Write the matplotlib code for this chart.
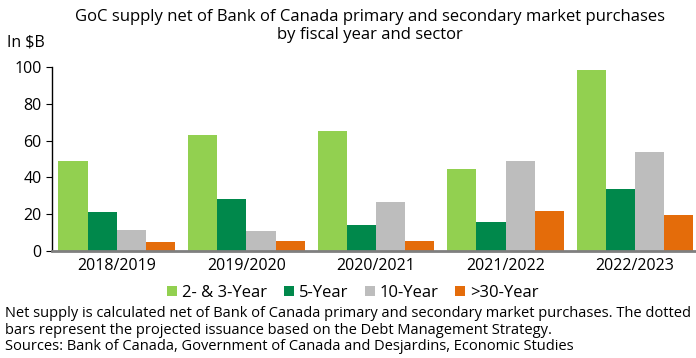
import matplotlib.pyplot as plt
import numpy as np

years = ['2018/2019', '2019/2020', '2020/2021', '2021/2022', '2022/2023']
series = ['2- & 3-Year', '5-Year', '10-Year', '>30-Year']
short = [49, 63, 65, 44.6, 98.4]
five = [21, 28.3, 14.3, 16, 33.7]
ten = [11.5, 11, 26.6, 49, 53.8]
long = [4.7, 5.2, 5.7, 21.7, 19.6]
colors = ['#92D050', '#00884B', '#BDBDBD', '#E46C0A']

plt.rcParams['font.family'] = ['Open Sans', 'DejaVu Sans']

fig = plt.figure(figsize=(6.96, 3.58), dpi=100)
ax = fig.add_axes([52/696, 1 - 251/358, 644/696, 184/358])

x = np.arange(len(years))
w = 0.225
for i, (vals, name) in enumerate(zip([short, five, ten, long], series)):
    ax.bar(x + (i - 1.5) * w, vals, width=w, color=colors[i], label=name, zorder=2)

ax.set_xlim(-0.5, 4.47)
ax.set_ylim(0, 100)
ax.set_yticks([0, 20, 40, 60, 80, 100])
ax.set_xticks(x)
ax.set_xticklabels(years)
ax.tick_params(axis='x', length=0, labelsize=11.5, pad=5)
ax.tick_params(axis='y', labelsize=11.5, length=4, direction='out')
for s in ['top', 'right']:
    ax.spines[s].set_visible(False)
ax.spines['bottom'].set_color('#7f7f7f')
ax.spines['bottom'].set_linewidth(2)
ax.spines['bottom'].set_zorder(3)
ax.spines['left'].set_linewidth(1)

fig.text(370/696, 1 - 26/358, 'GoC supply net of Bank of Canada primary and secondary market purchases\nby fiscal year and sector',
         ha='center', va='center', fontsize=12, linespacing=1.1)
fig.text(7/696, 1 - 42/358, 'In $B', ha='left', va='center', fontsize=11.5)

fig.legend(loc='center', bbox_to_anchor=(353/696, 1 - 293/358), ncol=4, frameon=False,
           fontsize=12, handlelength=0.6, handleheight=0.6, handletextpad=0.3,
           columnspacing=1.0)

fig.text(5/696, 1 - 306/358, 'Net supply is calculated net of Bank of Canada primary and secondary market purchases. The dotted\n'
         'bars represent the projected issuance based on the Debt Management Strategy.\n'
         'Sources: Bank of Canada, Government of Canada and Desjardins, Economic Studies',
         ha='left', va='top', fontsize=10.5, linespacing=1.15)

fig.savefig('out.png', dpi=100)
